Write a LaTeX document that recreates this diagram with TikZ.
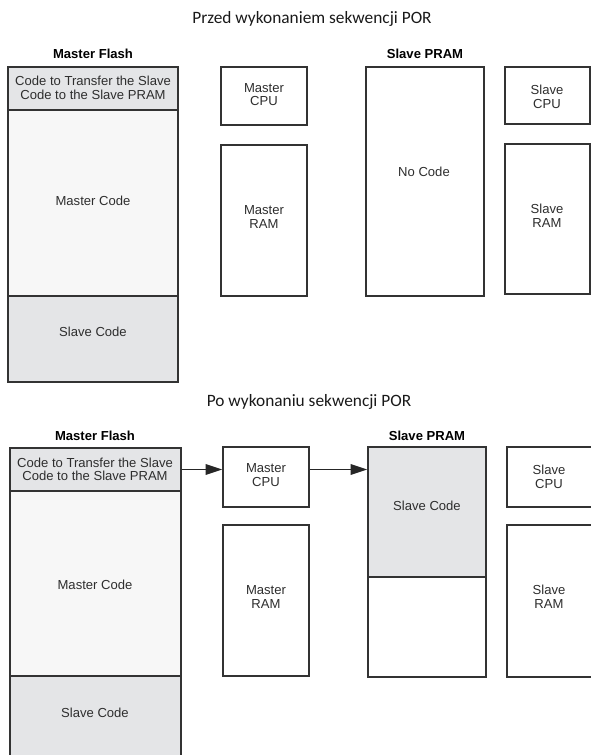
\documentclass[tikz,border=0pt]{standalone}
\usepackage{fontspec}
\setmainfont{Liberation Sans}
\newfontfamily\titlefont{Carlito}
\usetikzlibrary{fit,arrows.meta}
\definecolor{edge}{HTML}{333333}
\definecolor{shade}{HTML}{E4E5E7}
\definecolor{pale}{HTML}{F7F7F7}
\definecolor{ink}{HTML}{2E2E2E}
\begin{document}
\begin{tikzpicture}[x=0.75pt,y=-0.75pt,
  box/.style={draw=edge, line width=1.2pt, fill=white, inner sep=0pt, align=center,
    text=ink, font=\fontsize{9.8}{10.2}\selectfont},
  greybox/.style={box, fill=shade},
  palebox/.style={box, fill=pale},
  txt/.style={text=ink, align=center, inner sep=0pt, font=\fontsize{9.8}{10.2}\selectfont},
  head/.style={text=black, inner sep=0pt, font=\bfseries\fontsize{9.8}{10.2}\selectfont},
  ttl/.style={text=black!90, inner sep=0pt, font=\titlefont\fontsize{13}{15}\selectfont},
  flow/.style={draw=black!85, line width=1pt, -{Triangle[length=12.5pt,width=8pt]}}
]
\useasboundingbox (0,0) rectangle (591,755);
\clip (0,0) rectangle (591,755);

% ---------- top: before POR ----------
\node[ttl] (t1) at (312,19) {Przed wykonaniem sekwencji POR};
\node[head] (hf1) at (93,54) {Master Flash};
\node[head] (hp1) at (425,54) {Slave PRAM};

\node[greybox, fit={(8,67) (178,110)}] (xfer1) {};
\node[txt] (xfert1) at (93,88) {Code to Transfer the Slave\\Code to the Slave PRAM};
\node[palebox, fit={(8,110) (178,296)}] (mcode1) {};
\node[txt] (mcodet1) at (93,201) {Master Code};
\node[greybox, fit={(8,296) (178,382)}] (scode1) {};
\node[txt] (scodet1) at (93,332) {Slave Code};

\node[box, fit={(221,67) (307,125)}] (mcpu1) {};
\node[txt] (mcput1) at (264,94.5) {Master\\CPU};
\node[box, fit={(221,145) (307,296)}] (mram1) {};
\node[txt] (mramt1) at (264,217) {Master\\RAM};

\node[box, fit={(366,67) (484,296)}] (spram1) {};
\node[txt] (nocode) at (424,172) {No Code};

\node[box, fit={(505,67) (590,124)}] (scpu1) {};
\node[txt] (scput1) at (547,97) {Slave\\CPU};
\node[box, fit={(505,144) (590,294)}] (sram1) {};
\node[txt] (sramt1) at (547,216) {Slave\\RAM};

% ---------- bottom: after POR ----------
\node[ttl] (t2) at (309,402) {Po wykonaniu sekwencji POR};
\node[head] (hf2) at (95,436) {Master Flash};
\node[head] (hp2) at (427,436) {Slave PRAM};

\node[greybox, fit={(10,448) (181,491)}] (xfer2) {};
\node[txt] (xfert2) at (95,469.5) {Code to Transfer the Slave\\Code to the Slave PRAM};
\node[palebox, fit={(10,491) (181,676)}] (mcode2) {};
\node[txt] (mcodet2) at (95,585) {Master Code};
\node[greybox, fit={(10,676) (181,775)}] (scode2) {};
\node[txt] (scodet2) at (95,713) {Slave Code};

\node[box, fit={(223,447) (309,507)}] (mcpu2) {};
\node[txt] (mcput2) at (266,475) {Master\\CPU};
\node[box, fit={(223,525) (309,676)}] (mram2) {};
\node[txt] (mramt2) at (266,597) {Master\\RAM};

\node[greybox, fit={(368,447) (486,577)}] (spcode) {};
\node[txt] (spcodet) at (427,506) {Slave Code};
\node[box, fit={(368,577) (486,677)}] (spfree) {};

\node[box, fit={(507,447) (592,507)}] (scpu2) {};
\node[txt] (scput2) at (549,477) {Slave\\CPU};
\node[box, fit={(507,525) (592,677)}] (sram2) {};
\node[txt] (sramt2) at (549,597) {Slave\\RAM};

\draw[flow] (xfer2.east) -- (mcpu2.west |- xfer2.east);
\draw[flow] (mcpu2.east |- xfer2.east) -- (spcode.west |- xfer2.east);
\end{tikzpicture}
\end{document}
